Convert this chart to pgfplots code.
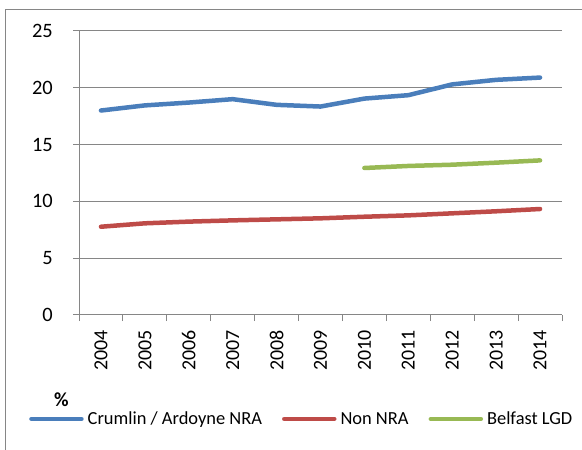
\documentclass[border=0pt]{standalone}
\usepackage{pgfplots}
\pgfplotsset{compat=1.18}
\usepackage{fontspec}
\setmainfont{Carlito}
\definecolor{cblue}{HTML}{4A7EBB}
\definecolor{cred}{HTML}{BE4B48}
\definecolor{cgreen}{HTML}{98B954}
\definecolor{cgrid}{HTML}{868686}
\begin{document}
\begin{tikzpicture}
\path[use as bounding box] (0bp,0bp) rectangle (582bp,450bp);
\draw[cgrid, line width=1.4bp] (5.5bp,0bp) -- (5.5bp,440.5bp) -- (582bp,440.5bp);
\begin{axis}[
  at={(79bp,135bp)}, anchor=south west,
  scale only axis, width=483bp, height=284bp,
  xmin=-0.5, xmax=10.5, ymin=0, ymax=25,
  axis x line*=bottom, axis y line*=left,
  axis line style={cgrid, line width=1bp, -},
  ytick={0,5,10,15,20,25},
  ymajorgrids, major grid style={cgrid, line width=1bp},
  xtick={-0.5,0.5,1.5,2.5,3.5,4.5,5.5,6.5,7.5,8.5,9.5,10.5},
  x tick label as interval,
  xticklabels={2004,2005,2006,2007,2008,2009,2010,2011,2012,2013,2014},
  tick align=outside, major tick length=6bp,
  tick style={cgrid, line width=1bp},
  /pgf/number format/assume math mode=true,
  y tick label style={font=\fontsize{20.5}{25}\selectfont, inner sep=0pt, anchor=east, xshift=-20bp},
  x tick label style={font=\fontsize{20}{24}\selectfont, rotate=90, anchor=east, inner sep=0pt, xshift=-9bp},
  legend columns=3,
  legend style={at={(axis description cs:-0.1035,-0.366)}, anchor=west, draw=none, fill=none,
    inner sep=0pt, font=\fontsize{18.5}{22}\selectfont,
    nodes={inner sep=0pt},
    /tikz/every odd column/.append style={column sep=4bp},
    /tikz/every even column/.append style={column sep=20bp}},
  legend image code/.code={\draw[#1, line width=4.5bp, line cap=round] (0bp,0bp) -- (50bp,0bp);},
  every axis plot/.append style={line width=4.5bp, line cap=round, line join=round, no markers},
]
\addplot[cblue] coordinates {(0,18.0) (1,18.45) (2,18.7) (3,19.0) (4,18.5) (5,18.35) (6,19.05) (7,19.35) (8,20.3) (9,20.7) (10,20.9)};
\addlegendentry{Crumlin / Ardoyne NRA}
\addplot[cred] coordinates {(0,7.77) (1,8.07) (2,8.22) (3,8.33) (4,8.42) (5,8.51) (6,8.65) (7,8.77) (8,8.95) (9,9.13) (10,9.33)};
\addlegendentry{Non NRA}
\addplot[cgreen] coordinates {(6,12.94) (7,13.12) (8,13.23) (9,13.41) (10,13.61)};
\addlegendentry{Belfast LGD}
\end{axis}
\node[font=\bfseries\fontsize{20}{22}\selectfont] at (61.5bp,50bp) {\%};
\end{tikzpicture}
\end{document}
